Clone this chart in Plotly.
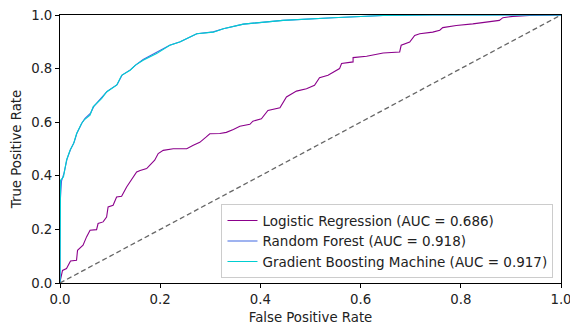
import plotly.graph_objects as go

# Logistic Regression ROC (AUC = 0.686)
lr_fpr = [0.0, 0.0, 0.005, 0.013, 0.021, 0.033, 0.035, 0.046, 0.053, 0.06, 0.073, 0.076, 0.086,
          0.093, 0.096, 0.106, 0.113, 0.123, 0.133, 0.14, 0.153, 0.16, 0.173, 0.179, 0.189, 0.196,
          0.206, 0.226, 0.253, 0.266, 0.279, 0.292, 0.299, 0.319, 0.332, 0.346, 0.359, 0.379, 0.385,
          0.402, 0.415, 0.439, 0.452, 0.472, 0.492, 0.508, 0.518, 0.535, 0.558, 0.562, 0.585, 0.585,
          0.612, 0.645, 0.665, 0.678, 0.681, 0.698, 0.708, 0.718, 0.744, 0.758, 0.764, 0.791, 0.824,
          0.857, 0.877, 0.884, 0.904, 0.937, 1.0]
lr_tpr = [0.0, 0.004, 0.047, 0.054, 0.082, 0.085, 0.122, 0.141, 0.172, 0.197, 0.199, 0.222, 0.228,
          0.246, 0.284, 0.29, 0.321, 0.324, 0.358, 0.377, 0.414, 0.42, 0.427, 0.439, 0.458, 0.483,
          0.495, 0.501, 0.501, 0.514, 0.525, 0.545, 0.557, 0.558, 0.562, 0.573, 0.585, 0.592, 0.604,
          0.613, 0.644, 0.654, 0.694, 0.716, 0.725, 0.738, 0.766, 0.775, 0.8, 0.819, 0.825, 0.841,
          0.846, 0.858, 0.862, 0.862, 0.887, 0.899, 0.924, 0.93, 0.936, 0.943, 0.953, 0.961, 0.967,
          0.974, 0.98, 0.99, 0.995, 0.998, 1.0]

# Random Forest ROC (AUC = 0.918)
rf_fpr = [0.0, 0.0, 0.003, 0.008, 0.014, 0.021, 0.028, 0.034, 0.044, 0.05, 0.061, 0.068, 0.083,
          0.094, 0.114, 0.124, 0.141, 0.152, 0.166, 0.19, 0.219, 0.24, 0.273, 0.306, 0.326, 0.366,
          0.445, 0.545, 0.645, 0.744, 1.0]
rf_tpr = [0.0, 0.29, 0.38, 0.41, 0.462, 0.498, 0.524, 0.56, 0.598, 0.614, 0.634, 0.66, 0.692,
          0.715, 0.74, 0.776, 0.796, 0.815, 0.834, 0.858, 0.887, 0.9, 0.93, 0.937, 0.949, 0.966,
          0.98, 0.99, 0.998, 1.0, 1.0]

# Gradient Boosting Machine ROC (AUC = 0.917)
gbm_fpr = [0.0, 0.0, 0.001, 0.007, 0.013, 0.02, 0.027, 0.033, 0.043, 0.049, 0.06, 0.066, 0.083,
           0.093, 0.113, 0.123, 0.14, 0.15, 0.166, 0.193, 0.219, 0.239, 0.273, 0.306, 0.326, 0.366,
           0.445, 0.545, 0.645, 0.744, 1.0]
gbm_tpr = [0.0, 0.296, 0.383, 0.396, 0.458, 0.495, 0.52, 0.557, 0.595, 0.61, 0.626, 0.657, 0.688,
           0.713, 0.738, 0.775, 0.794, 0.812, 0.831, 0.856, 0.887, 0.899, 0.93, 0.936, 0.949, 0.966,
           0.98, 0.99, 0.998, 1.0, 1.0]

diag = [0.0, 1.0]
tick_vals = [0.0, 0.2, 0.4, 0.6, 0.8, 1.0]
tick_text = ["0.0", "0.2", "0.4", "0.6", "0.8", "1.0"]

FONT = "DejaVu Sans"
FS = 13.3

fig = go.Figure()
fig.add_trace(go.Scatter(x=lr_fpr, y=lr_tpr, mode="lines",
                         line=dict(color="#8B008B", width=1.1),
                         name="Logistic Regression (AUC = 0.686)"))
fig.add_trace(go.Scatter(x=rf_fpr, y=rf_tpr, mode="lines",
                         line=dict(color="#4169E1", width=1.1),
                         name="Random Forest (AUC = 0.918)"))
fig.add_trace(go.Scatter(x=gbm_fpr, y=gbm_tpr, mode="lines",
                         line=dict(color="#00CED1", width=1.1),
                         name="Gradient Boosting Machine (AUC = 0.917)"))
fig.add_trace(go.Scatter(x=diag, y=diag, mode="lines",
                         line=dict(color="#666666", width=1.3, dash="5px,3px"),
                         showlegend=False))

axis_common = dict(range=[0, 1], showline=True, linecolor="black", linewidth=1, mirror=True,
                   ticks="outside", ticklen=4, tickcolor="black", tickwidth=1,
                   showgrid=False, zeroline=False, tickvals=tick_vals, ticktext=tick_text,
                   automargin=False, ticklabeloverflow="allow",
                   tickfont=dict(family=FONT, size=FS, color="#222"))
fig.update_xaxes(**axis_common, title=dict(text="False Positive Rate", standoff=6,
                                           font=dict(family=FONT, size=FS, color="#222")))
fig.update_yaxes(**axis_common, title=dict(text="True Positive Rate", standoff=6,
                                           font=dict(family=FONT, size=FS, color="#222")))

fig.update_layout(
    width=570, height=325,
    margin=dict(l=60, r=9, t=15, b=42),
    plot_bgcolor="white", paper_bgcolor="white",
    font=dict(family=FONT, size=FS, color="#222"),
    legend=dict(x=0.985, y=0.018, xanchor="right", yanchor="bottom",
                bgcolor="rgba(255,255,255,0.8)", bordercolor="#cccccc", borderwidth=1,
                font=dict(family=FONT, size=13.5, color="#222"), tracegroupgap=0,
                itemwidth=30),
)

fig.write_html("out.html", config={"displayModeBar": False},
               post_script="document.body.style.margin='0';document.body.style.overflow='hidden';")
